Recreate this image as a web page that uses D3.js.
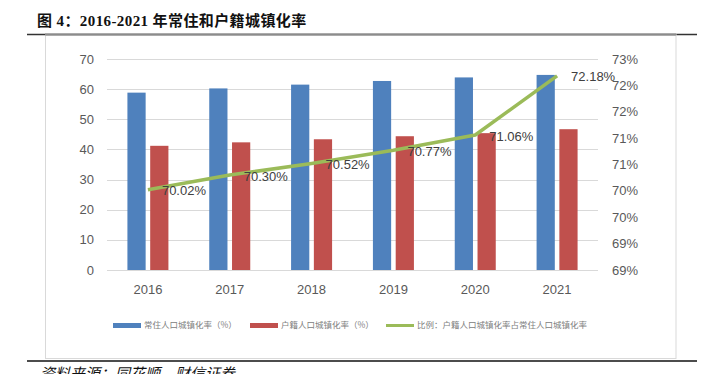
<!DOCTYPE html>
<html>
<head>
<meta charset="utf-8">
<script src="https://cdn.jsdelivr.net/npm/d3@7"></script>
<style>
  body { margin: 0; background: #fff; }
  svg { display: block; }
</style>
</head>
<body>
<div id="chart"></div>
<script>
// 数据
var years = ['2016', '2017', '2018', '2019', '2020', '2021'];
var urbanRate = [58.84, 60.24, 61.50, 62.71, 63.89, 64.72];   // 常住人口城镇化率
var hukouRate = [41.20, 42.35, 43.37, 44.38, 45.40, 46.71];   // 户籍人口城镇化率
var ratio = [0.7002, 0.7030, 0.7052, 0.7077, 0.7106, 0.7218]; // 比例
var leftTicks = [0, 10, 20, 30, 40, 50, 60, 70];
var rightTicks = [0.685, 0.69, 0.695, 0.70, 0.705, 0.71, 0.715, 0.72, 0.725];
var rightTickLabels = ['69%', '69%', '70%', '70%', '71%', '71%', '72%', '72%', '73%'];
var seriesNames = ['常住人口城镇化率（%）', '户籍人口城镇化率（%）', '比例：户籍人口城镇化率占常住人口城镇化率'];

var W = 706, H = 374;
var blue = '#4f81bd', red = '#c0504d', green = '#9bbb59';
var font = '"Liberation Sans", Arial, sans-serif';
var cjk = '"Liberation Serif", "Noto Sans CJK SC", serif';

var svg = d3.select('#chart').append('svg')
    .attr('width', W)
    .attr('height', H);

// 标题
svg.append('text')
    .attr('x', 37)
    .attr('y', 26)
    .style('font-family', cjk)
    .style('font-weight', 'bold')
    .style('font-size', '15px')
    .style('letter-spacing', '0.4px')
    .attr('fill', '#111')
    .text('图 4：2016-2021 年常住和户籍城镇化率');

// 上下横线 + 图框
svg.append('line').attr('x1', 27).attr('x2', 697).attr('y1', 34.5).attr('y2', 34.5)
    .attr('stroke', '#333').attr('stroke-width', 1.5);
svg.append('rect')
    .attr('x', 45.5).attr('y', 34.5).attr('width', 630.5).attr('height', 324)
    .attr('fill', 'none').attr('stroke', '#d9d9d9');
svg.append('line').attr('x1', 45).attr('x2', 676).attr('y1', 34.5).attr('y2', 34.5)
    .attr('stroke', '#8c8c8c').attr('stroke-width', 2);
svg.append('line').attr('x1', 27).attr('x2', 697).attr('y1', 361).attr('y2', 361)
    .attr('stroke', '#111').attr('stroke-width', 1.3);

// 资料来源
svg.append('text')
    .attr('x', 40)
    .attr('y', 379)
    .style('font-family', '"Noto Sans CJK SC", sans-serif')
    .style('font-style', 'italic')
    .style('font-size', '15px')
    .attr('fill', '#111')
    .text('资料来源：同花顺，财信证券');

// 比例尺
var x = d3.scaleBand().domain(years).range([107, 598]);
var xInner = d3.scaleBand().domain([0, 1]).range([-20.5, 20.5]).paddingInner(0.2);
var yLeft = d3.scaleLinear().domain([0, 70]).range([270, 59]);
var yRight = d3.scaleLinear().domain([0.685, 0.725]).range([270, 59]);

// 网格线
svg.append('g').selectAll('line')
    .data(leftTicks)
    .enter()
    .append('line')
    .attr('x1', 107).attr('x2', 598)
    .attr('y1', function(d) { return Math.round(yLeft(d)) + 0.5; })
    .attr('y2', function(d) { return Math.round(yLeft(d)) + 0.5; })
    .attr('stroke', '#d9d9d9');

// 左轴
svg.append('g').selectAll('text')
    .data(leftTicks)
    .enter()
    .append('text')
    .attr('x', 94)
    .attr('y', function(d) { return yLeft(d); })
    .attr('dy', '0.35em')
    .style('text-anchor', 'end')
    .style('font-family', font)
    .style('font-size', '13px')
    .attr('fill', '#595959')
    .text(function(d) { return d; });

// 右轴
svg.append('g').selectAll('text')
    .data(rightTicks)
    .enter()
    .append('text')
    .attr('x', 612)
    .attr('y', function(d) { return yRight(d); })
    .attr('dy', '0.35em')
    .style('font-family', font)
    .style('font-size', '13px')
    .attr('fill', '#595959')
    .text(function(d, i) { return rightTickLabels[i]; });

// 横轴
svg.append('g').selectAll('text')
    .data(years)
    .enter()
    .append('text')
    .attr('x', function(d) { return x(d) + x.bandwidth() / 2; })
    .attr('y', 289)
    .attr('dy', '0.35em')
    .style('text-anchor', 'middle')
    .style('font-family', font)
    .style('font-size', '13px')
    .attr('fill', '#595959')
    .text(function(d) { return d; });

// 柱子
var series = [urbanRate, hukouRate];
var colors = [blue, red];
series.forEach(function(vals, s) {
    svg.append('g').selectAll('rect')
        .data(vals)
        .enter()
        .append('rect')
        .attr('x', function(d, i) { return x(years[i]) + x.bandwidth() / 2 + xInner(s); })
        .attr('width', xInner.bandwidth())
        .attr('y', function(d) { return yLeft(d); })
        .attr('height', function(d) { return yLeft(0) - yLeft(d); })
        .attr('fill', colors[s]);
});

// 折线
var line = d3.line()
    .x(function(d, i) { return x(years[i]) + x.bandwidth() / 2; })
    .y(function(d) { return yRight(d); });
svg.append('path')
    .datum(ratio)
    .attr('d', line)
    .attr('fill', 'none')
    .attr('stroke', green)
    .attr('stroke-width', 3.5)
    .attr('stroke-linejoin', 'round');

// 数据标签
var pct = d3.format('.2%');
svg.append('g').selectAll('text')
    .data(ratio)
    .enter()
    .append('text')
    .attr('x', function(d, i) { return x(years[i]) + x.bandwidth() / 2 + 14; })
    .attr('y', function(d) { return yRight(d) + 1; })
    .attr('dy', '0.35em')
    .style('font-family', font)
    .style('font-size', '13px')
    .attr('fill', '#404040')
    .text(function(d) { return pct(d); });

// 图例
var legendX = [113, 250, 386];
var lg = svg.append('g');
seriesNames.forEach(function(name, i) {
    if (i < 2) {
        lg.append('rect')
            .attr('x', legendX[i]).attr('y', 323)
            .attr('width', 28).attr('height', 5)
            .attr('fill', colors[i]);
    } else {
        lg.append('line')
            .attr('x1', legendX[i]).attr('x2', legendX[i] + 28)
            .attr('y1', 325.5).attr('y2', 325.5)
            .attr('stroke', green).attr('stroke-width', 3);
    }
    lg.append('text')
        .attr('x', legendX[i] + 31)
        .attr('y', 325.5)
        .attr('dy', '0.35em')
        .style('font-family', '"Noto Sans CJK SC", sans-serif')
        .style('font-size', '8.5px')
        .attr('fill', '#808080')
        .text(name);
});
</script>
</body>
</html>
